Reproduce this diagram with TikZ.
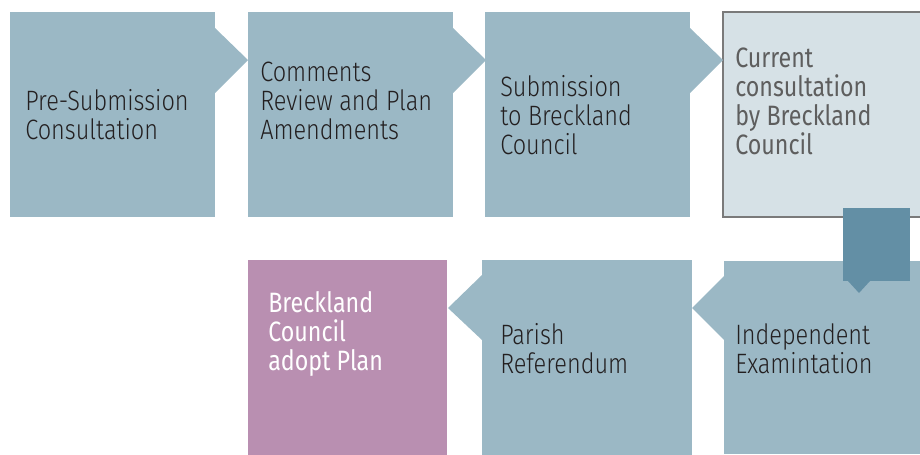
\documentclass[tikz,border=0pt]{standalone}
\usepackage{fontspec}
\setmainfont{Fira Sans Light}[FakeStretch=0.84]
\newfontfamily\plumfont{Fira Sans}[FakeStretch=0.83]
\definecolor{stepblue}{HTML}{9BB8C5}
\definecolor{stepdark}{HTML}{638FA5}
\definecolor{steplight}{HTML}{D6E1E6}
\definecolor{stepplum}{HTML}{B98FB1}
\definecolor{stepline}{HTML}{7A7A7A}
\definecolor{textdark}{HTML}{231F20}
\definecolor{textgrey}{HTML}{5E5E5E}

\begin{document}
\begin{tikzpicture}[x=0.75pt,y=-0.75pt,
    box/.style={fill=stepblue, anchor=north west, inner sep=0pt, outer sep=0pt},
    lbl/.style={anchor=west, align=left, inner sep=0pt, text=textdark,
        font=\fontsize{21}{21.75}\selectfont}]
\useasboundingbox (0,0) rectangle (920,454);

% top row
\node[box, minimum width=153.75pt, minimum height=153.75pt] (b1) at (10,12) {};
\node[box, minimum width=153.75pt, minimum height=153.75pt] (b2) at (248,12) {};
\node[box, minimum width=153.75pt, minimum height=153.75pt] (b3) at (485,12) {};
\node[box, fill=steplight, draw=stepline, line width=1.5pt,
      minimum width=150pt, minimum height=153.75pt] (b4) at (723,12) {};

\foreach \s in {b1,b2,b3} {
    \fill[stepblue] ([shift={(0,16)}]\s.north east) -- ([shift={(33,48)}]\s.north east)
        -- ([shift={(0,81)}]\s.north east) -- cycle;
}

% bottom row
\node[box, fill=stepplum, minimum width=149.25pt, minimum height=146pt] (b7) at (248,260) {};
\node[box, minimum width=157.5pt, minimum height=146pt] (b6) at (482,260) {};
\node[box, minimum width=150pt, minimum height=145pt] (b5) at (724,261) {};

\fill[stepblue] ([shift={(0,15)}]b5.north west) -- ([shift={(-32,47)}]b5.north west)
    -- ([shift={(0,79)}]b5.north west) -- cycle;
\fill[stepblue] ([shift={(0,15)}]b6.north west) -- ([shift={(-34,48)}]b6.north west)
    -- ([shift={(0,80)}]b6.north west) -- cycle;

% down arrow
\node[box, fill=stepdark, minimum width=50.25pt, minimum height=54.75pt] (dn) at (843,208) {};
\fill[stepdark] ([xshift=3.75pt]dn.south west) -- ([shift={(16,12)}]dn.south west)
    -- ([xshift=20.25pt]dn.south west) -- cycle;

% labels
\node[lbl] (t1) at (25,115) {Pre-Submission\\Consultation};
\node[lbl] (t2) at (260,101) {Comments\\Review and Plan\\Amendments};
\node[lbl] (t3) at (500,115) {Submission\\to Breckland\\Council};
\node[lbl, text=textgrey, font=\fontsize{21}{21.75}\plumfont] (t4) at (735,101) {Current\\consultation\\by Breckland\\Council};
\node[lbl] (t5) at (735,348.5) {Independent\\Examintation};
\node[lbl] (t6) at (500,348.5) {Parish\\Referendum};
\node[lbl, text=white, font=\fontsize{21}{21.75}\plumfont] (t7) at (268,334) {Breckland\\Council\\adopt Plan};
\end{tikzpicture}
\end{document}
